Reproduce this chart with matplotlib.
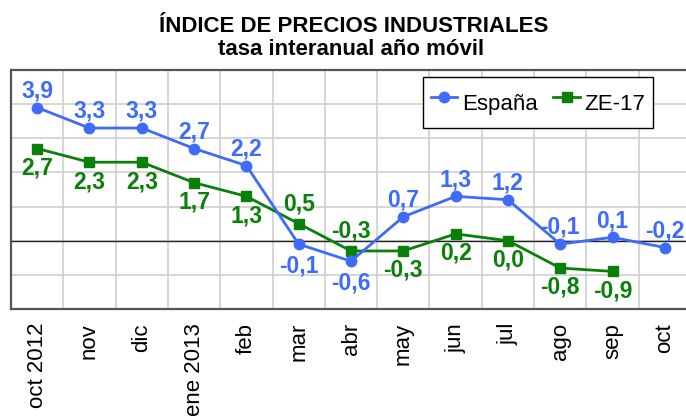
import numpy as np
import matplotlib
matplotlib.use("Agg")
import matplotlib.pyplot as plt
from matplotlib.ticker import MultipleLocator, FixedLocator

plt.rcParams['font.family'] = ['Liberation Sans', 'DejaVu Sans']

meses = ['oct 2012', 'nov', 'dic', 'ene 2013', 'feb', 'mar', 'abr',
         'may', 'jun', 'jul', 'ago', 'sep', 'oct']
espana = [3.9, 3.3, 3.3, 2.7, 2.2, -0.1, -0.6, 0.7, 1.3, 1.2, -0.1, 0.1, -0.2]
ze17 = [2.7, 2.3, 2.3, 1.7, 1.3, 0.5, -0.3, -0.3, 0.2, 0.0, -0.8, -0.9]

# label above (+1) or below (-1) the point
pos_espana = [1, 1, 1, 1, 1, -1, -1, 1, 1, 1, 1, 1, 1]
pos_ze17 = [-1, -1, -1, -1, -1, 1, 1, -1, -1, -1, -1, -1]

AZUL = '#3E6BFA'
VERDE = '#0A800A'

fig = plt.figure(figsize=(6.86, 4.16), dpi=100)
W, H = 686, 416
ax = fig.add_axes([11 / W, (H - 309) / H, 680 / W, 239 / H])

x = np.arange(len(meses))
ax.plot(x, espana, color=AZUL, lw=2, marker='o', ms=7.5, label='España', zorder=4)
ax.plot(np.arange(len(ze17)), ze17, color=VERDE, lw=2, marker='s', ms=6.5,
        label='ZE-17', zorder=3)

def fmt(v):
    return f'{v:.1f}'.replace('.', ',')

for i, v in enumerate(espana):
    off = 12 if pos_espana[i] > 0 else -16
    ax.annotate(fmt(v), (i, v), xytext=(0, off), textcoords='offset points',
                ha='center', va='center', color=AZUL, fontsize=16.5,
                fontweight='bold', zorder=5)
for i, v in enumerate(ze17):
    off = 14.5 if pos_ze17[i] > 0 else -14
    ax.annotate(fmt(v), (i, v), xytext=(0, off), textcoords='offset points',
                ha='center', va='center', color=VERDE, fontsize=16.5,
                fontweight='bold', zorder=5)

ax.set_xlim(-0.5, len(meses) - 0.5)
ax.set_ylim(-2, 5)
ax.set_xticks(x)
ax.set_xticklabels(meses, rotation=90, fontsize=16)
ax.xaxis.set_minor_locator(FixedLocator(np.arange(0.5, len(meses) - 0.5, 1)))
ax.yaxis.set_major_locator(MultipleLocator(1))
ax.set_yticklabels([])
ax.tick_params(axis='both', which='both', length=0)
ax.tick_params(axis='x', pad=10)
ax.grid(True, axis='y', which='major', color='#CFCFCF', lw=1.2)
ax.grid(True, axis='x', which='minor', color='#CFCFCF', lw=1.2)
ax.axhline(0, color='#222222', lw=1, zorder=2)
for s in ax.spines.values():
    s.set_color('#555555')
    s.set_linewidth(1.6)

leg = ax.legend(loc='upper right', bbox_to_anchor=((653 - 11) / 680, (309 - 77) / 239),
                borderaxespad=0, ncol=2, fontsize=16, frameon=True, fancybox=False,
                framealpha=1, edgecolor='black', handlelength=1.2, handletextpad=0.2,
                columnspacing=0.7, borderpad=0.35, handleheight=2.1)
leg.get_frame().set_linewidth(1.0)

fig.text(354 / W, 1 - 31.7 / H, 'ÍNDICE DE PRECIOS INDUSTRIALES', ha='center',
         va='baseline', fontsize=16, fontweight='bold')
fig.text(351 / W, 1 - 55 / H, 'tasa interanual año móvil', ha='center',
         va='baseline', fontsize=16, fontweight='bold')

fig.savefig('out.png', dpi=100)
